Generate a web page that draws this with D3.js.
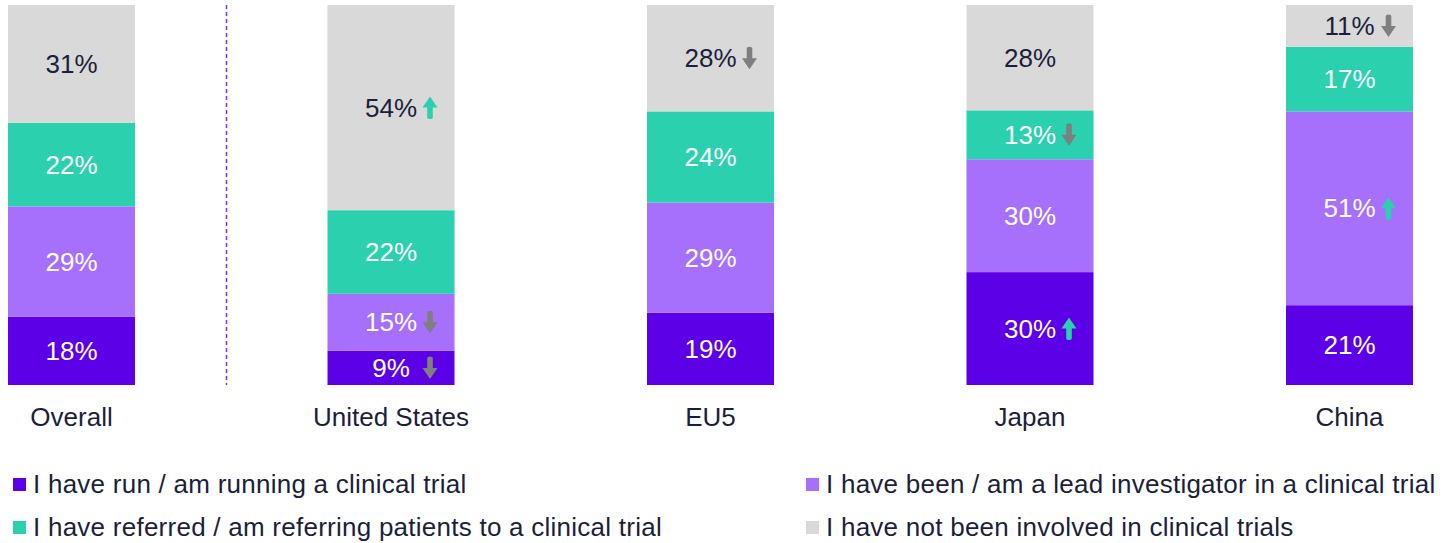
<!DOCTYPE html>
<html>
<head>
<meta charset="utf-8">
<script src="https://cdn.jsdelivr.net/npm/d3@7"></script>
<style>
  body { margin: 0; background: #fff; }
  svg { display: block; font-family: "Liberation Sans", Arial, sans-serif; }
</style>
</head>
<body>
<svg id="chart" width="1448" height="543"></svg>
<script>
// categories & series (percent of respondents)
const categories = ["Overall", "United States", "EU5", "Japan", "China"]
const seriesKeys = ["run", "lead", "referred", "none"]
const seriesNames = [
  "I have run / am running a clinical trial",
  "I have been / am a lead investigator in a clinical trial",
  "I have referred / am referring patients to a clinical trial",
  "I have not been involved in clinical trials",
]
const runVals = [18, 9, 19, 30, 21]
const leadVals = [29, 15, 29, 30, 51]
const referredVals = [22, 22, 24, 13, 17]
const noneVals = [31, 54, 28, 28, 11]
// significance arrows: 1 up, -1 down, 0 none
const runArrows = [0, -1, 0, 1, 0]
const leadArrows = [0, -1, 0, 0, 1]
const referredArrows = [0, 0, 0, -1, 0]
const noneArrows = [0, 1, -1, 0, -1]

const colors = ["#5c00e8", "#a66ffc", "#2bd0ae", "#d9d9d9"]
const textColors = ["#fff", "#fff", "#fff", "#1b1f3b"]
const darkText = "#1b1f3b"
const fontSize = 26

const data = categories.map((c, i) => ({
  cat: c,
  run: runVals[i], lead: leadVals[i], referred: referredVals[i], none: noneVals[i],
}))
const arrows = { run: runArrows, lead: leadArrows, referred: referredArrows, none: noneArrows }

const svg = d3.select("#chart")
const plotTop = 5, plotBottom = 385

const x = d3.scaleBand().domain(categories).range([8, 1413]).paddingInner(0.6025).paddingOuter(0)
const y = d3.scaleLinear().domain([0, 1]).range([plotBottom, plotTop])

const stacked = d3.stack().keys(seriesKeys).offset(d3.stackOffsetExpand)(data)

const layers = svg.selectAll("g.layer")
  .data(stacked)
  .enter()
  .append("g")
  .attr("class", "layer")
  .attr("fill", (d, i) => colors[i])

layers.selectAll("rect")
  .data(d => d)
  .enter()
  .append("rect")
  .attr("x", d => x(d.data.cat))
  .attr("y", d => y(d[1]))
  .attr("width", x.bandwidth())
  .attr("height", d => y(d[0]) - y(d[1]))

// value labels + arrows
stacked.forEach((layer, si) => {
  const key = seriesKeys[si]
  layer.forEach((d, ci) => {
    const cx = x(d.data.cat) + x.bandwidth() / 2
    const cy = (y(d[0]) + y(d[1])) / 2
    svg.append("text")
      .attr("x", cx)
      .attr("y", cy)
      .attr("text-anchor", "middle")
      .attr("dominant-baseline", "central")
      .attr("font-size", fontSize)
      .attr("fill", textColors[si])
      .text(d.data[key] + "%")
    const dir = arrows[key][ci]
    if (dir !== 0) {
      const ax = cx + 39
      const col = dir > 0 ? "#2bd0ae" : "#7f7f7f"
      // arrow pointing up, flipped for down
      const path = "M0,-11 L7.5,0 L2.8,0 L2.8,10 Q2.8,11.5 0,11.5 Q-2.8,11.5 -2.8,10 L-2.8,0 L-7.5,0 Z"
      svg.append("path")
        .attr("d", path)
        .attr("fill", col)
        .attr("transform", `translate(${ax},${cy}) scale(1,${dir > 0 ? 1 : -1})`)
    }
  })
})

// divider between Overall and countries
svg.append("line")
  .attr("x1", 226.5).attr("x2", 226.5)
  .attr("y1", plotTop).attr("y2", plotBottom)
  .attr("stroke", "#7a2ff0")
  .attr("stroke-width", 1.5)
  .attr("stroke-dasharray", "4,3")

// category axis
const xAxis = svg.append("g")
  .attr("transform", `translate(0,${plotBottom})`)
  .call(d3.axisBottom(x).tickSize(0).tickPadding(20))
xAxis.select(".domain").remove()
xAxis.selectAll("text")
  .attr("y", 32)
  .attr("dy", "0.35em")
  .attr("font-size", fontSize)
  .attr("font-family", "Liberation Sans, Arial, sans-serif")
  .attr("fill", darkText)

// legend (2 columns, run/lead on first row)
const legendPos = [[13, 484], [806, 484], [13, 527], [806, 527]]
seriesNames.forEach((name, i) => {
  const [lx, ly] = legendPos[i]
  svg.append("rect")
    .attr("x", lx).attr("y", ly - 6)
    .attr("width", 13).attr("height", 13)
    .attr("fill", colors[i])
  svg.append("text")
    .attr("x", lx + 20)
    .attr("y", ly)
    .attr("dominant-baseline", "central")
    .attr("font-size", fontSize)
    .attr("letter-spacing", "0.25px")
    .attr("fill", darkText)
    .text(name)
})
</script>
</body>
</html>
